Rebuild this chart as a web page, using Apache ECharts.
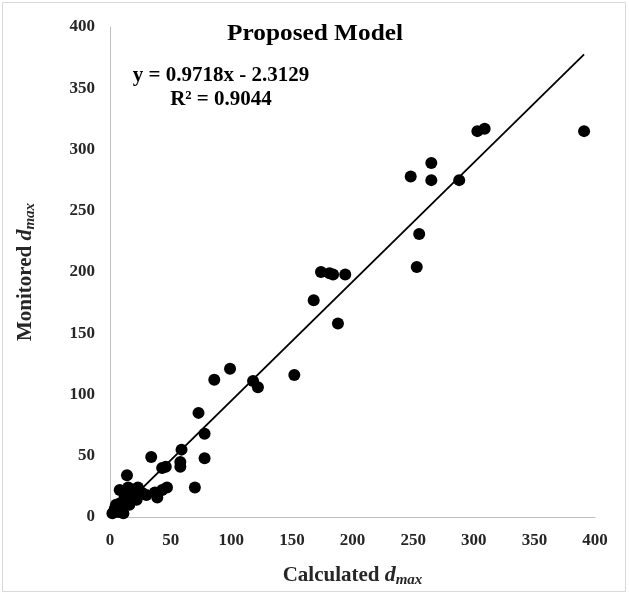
<!DOCTYPE html>
<html>
<head>
<meta charset="utf-8">
<script src="https://cdn.jsdelivr.net/npm/echarts@6/dist/echarts.min.js"></script>
<style>html,body{margin:0;padding:0;background:#fff;}#c{width:629px;height:597px;}</style>
</head>
<body>
<div id="c"></div>
<script>
// Calculated d_max (x) and Monitored d_max (y)
const calcX = [391,303,309,248,265,265,288,255,253,168,174,181,184,194,188,152,118,122,86,99,73,78,78,70,59,58,58,34,43,46,14,
  8,15,23,26,19,30,37,39,43,47,12,8,4,2,11,7,16,22,5,10,20];
const monY  = [315,315,317,278,289,275,275,231,204,177,200,199,198,198,158,116,111,106,112,121,85,68,48,24,55,45,41,49,40,41,34,
  22,24,24,20,18,18,20,16,22,24,16,11,7,3,3,4,10,14,10,6,22];
const slope = 0.9718, intercept = -2.3129, r2 = 0.9044;
const xTicks = [0,50,100,150,200,250,300,350,400];
const yTicks = [0,50,100,150,200,250,300,350,400];

const pts = calcX.map((x,i)=>[x, monY[i]]);
const xMinD = Math.min(...calcX), xMaxD = Math.max(...calcX);
const trend = [[xMinD, slope*xMinD+intercept],[xMaxD, slope*xMaxD+intercept]];

const serif = '"Liberation Serif", "Times New Roman", serif';
const txt = '#262626';
const chart = echarts.init(document.getElementById('c'));
const nameRich = {
  a:{fontFamily:serif,fontWeight:'bold',fontSize:21,color:txt},
  b:{fontFamily:serif,fontWeight:'bold',fontStyle:'italic',fontSize:22,color:txt},
  c:{fontFamily:serif,fontWeight:'bold',fontStyle:'italic',fontSize:15,color:txt,padding:[10,0,0,0]}
};
chart.setOption({
  animation:false,
  backgroundColor:'#fff',
  grid:{left:110,right:34,top:27,bottom:80,containLabel:false},
  xAxis:{type:'value',min:0,max:400,interval:50,
    axisLine:{show:true,lineStyle:{color:'#bfbfbf',width:1}},
    axisTick:{show:false},splitLine:{show:false},
    axisLabel:{fontFamily:serif,fontWeight:'bold',fontSize:17,color:txt,margin:15,
      formatter:v=>xTicks.includes(v)?String(v):''},
    name:'{a|Calculated }{b|d}{c|max}',nameLocation:'middle',nameGap:46,
    nameTextStyle:{rich:nameRich}
  },
  yAxis:{type:'value',min:0,max:400,interval:50,
    axisLine:{show:true,lineStyle:{color:'#bfbfbf',width:1}},
    axisTick:{show:false},splitLine:{show:false},
    axisLabel:{fontFamily:serif,fontWeight:'bold',fontSize:17,color:txt,margin:15,
      formatter:v=>yTicks.includes(v)?String(v):''},
    name:'{a|Monitored }{b|d}{c|max}',nameLocation:'middle',nameGap:72,nameRotate:90,
    nameTextStyle:{rich:nameRich}
  },
  series:[
    {type:'scatter',data:pts,symbol:'circle',symbolSize:12,itemStyle:{color:'#000',opacity:1},z:3},
    {type:'line',data:trend,showSymbol:false,symbol:'none',lineStyle:{color:'#000',width:1.8},z:2}
  ],
  graphic:[
    {type:'rect',shape:{x:2.5,y:2.5,width:623,height:589},style:{fill:'none',stroke:'#d9d9d9',lineWidth:1},silent:true},
    {type:'text',x:315,y:34,scaleX:1.1,style:{text:'Proposed Model',font:'bold 23px '+serif,fill:'#000',align:'center',verticalAlign:'middle'}},
    {type:'text',x:221,y:76,style:{text:'y = '+slope+'x - '+Math.abs(intercept),font:'bold 21px '+serif,fill:'#000',align:'center',verticalAlign:'middle'}},
    {type:'text',x:221,y:100,style:{text:'R² = '+r2,font:'bold 21px '+serif,fill:'#000',align:'center',verticalAlign:'middle'}}
  ]
});
</script>
</body>
</html>
